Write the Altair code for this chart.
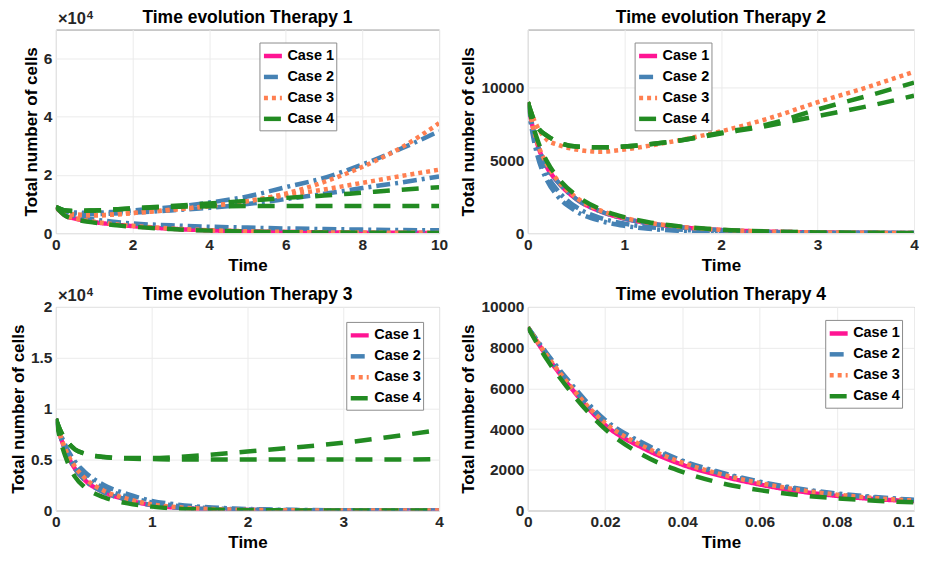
import altair as alt
import pandas as pd

FONT = "Liberation Sans"
CASES = ["Case 1", "Case 2", "Case 3", "Case 4"]
COLORS = ["#FF1493", "#4682B4", "#FF7F50", "#228B22"]
DASHES = [[1, 0], [14, 5, 3, 5], [4, 4], [17, 12]]
TITLES = ["Time evolution Therapy 1", "Time evolution Therapy 2",
          "Time evolution Therapy 3", "Time evolution Therapy 4"]

# ---------------- Therapy 1 ----------------
t1 = [0, 0.25, 0.5, 1, 1.5, 2, 3, 4, 5, 6, 7, 8, 9, 10]
th1_case1 = [[9000, 6000, 5000, 3800, 3000, 2400, 1500, 950, 600, 380, 250, 160, 100, 70]]
th1_case2 = [
    [9000, 7600, 7100, 7000, 7300, 7800, 8900, 10500, 12600, 15800, 19000, 23600, 29000, 35000],
    [9000, 7400, 6800, 6500, 6700, 7000, 7800, 8700, 10000, 11700, 13500, 15500, 17400, 19500],
    [9000, 6800, 5900, 4700, 3900, 3300, 2700, 2200, 1900, 1600, 1400, 1200, 1050, 950],
]
th1_case3 = [
    [9000, 7000, 6400, 6100, 6400, 6900, 8000, 9300, 11000, 13600, 17600, 22800, 29300, 37800],
    [9000, 7000, 6400, 6100, 6400, 6900, 8000, 9300, 11000, 13000, 15000, 17300, 19600, 21800],
    [9000, 6100, 5100, 3900, 3100, 2500, 1600, 1000, 640, 410, 260, 170, 110, 70],
]
th1_case4 = [
    [9000, 7800, 7600, 7800, 8100, 8500, 9300, 10200, 11100, 12100, 12900, 13900, 14900, 15800],
    [9000, 7800, 7600, 7800, 8100, 8500, 9000, 9200, 9300, 9300, 9300, 9300, 9300, 9300],
    [9000, 5900, 4800, 3600, 2800, 2200, 1400, 850, 520, 330, 210, 130, 85, 55],
]

# ---------------- Therapy 2 ----------------
t2 = [0, 0.05, 0.1, 0.2, 0.3, 0.5, 0.75, 1, 1.25, 1.5, 2, 2.5, 3, 3.5, 4]
th2_case1 = [[9000, 7300, 6100, 4500, 3600, 2350, 1500, 1000, 680, 460, 210, 100, 45, 20, 10]]
th2_case2 = [
    [9000, 7300, 6100, 4500, 3600, 2350, 1500, 1000, 680, 460, 210, 100, 45, 20, 10],
    [9000, 7000, 5700, 4000, 3000, 1800, 1050, 650, 420, 270, 110, 45, 20, 8, 3],
    [9000, 6800, 5300, 3600, 2600, 1500, 850, 500, 300, 180, 70, 28, 11, 5, 2],
]
th2_case3 = [
    [9000, 8000, 7300, 6400, 6100, 5750, 5600, 5750, 6000, 6300, 7000, 7900, 9000, 10000, 11100],
    [9000, 7400, 6200, 4700, 3700, 2450, 1560, 1050, 720, 490, 230, 105, 50, 22, 10],
]
th2_case4 = [
    [9000, 8000, 7300, 6700, 6300, 5950, 5900, 5950, 6100, 6300, 6900, 7500, 8500, 9400, 10350],
    [9000, 8000, 7300, 6700, 6300, 5950, 5900, 5950, 6100, 6300, 6850, 7400, 8050, 8700, 9450],
    [9000, 7500, 6400, 4900, 3900, 2600, 1650, 1100, 750, 520, 240, 110, 50, 25, 10],
]

# ---------------- Therapy 3 ----------------
t3 = [0, 0.05, 0.1, 0.2, 0.3, 0.5, 0.75, 1, 1.25, 1.5, 2, 2.5, 3, 3.5, 4]
th3_case1 = [[9000, 7200, 5900, 4100, 3000, 1800, 1050, 520, 290, 160, 48, 15, 5, 2, 1]]
th3_case2 = [
    [9000, 7500, 6400, 4800, 3800, 2500, 1600, 950, 600, 380, 150, 60, 25, 10, 4],
    [9000, 7400, 6200, 4600, 3500, 2200, 1350, 800, 480, 290, 110, 40, 15, 6, 2],
    [9000, 7200, 5900, 4100, 3000, 1800, 1050, 520, 290, 160, 48, 15, 5, 2, 1],
]
th3_case3 = [[9000, 7300, 6000, 4300, 3200, 1950, 1150, 600, 340, 190, 60, 18, 6, 2, 1]]
th3_case4 = [
    [9000, 7800, 7000, 6000, 5600, 5250, 5150, 5150, 5250, 5400, 5800, 6200, 6650, 7250, 7900],
    [9000, 7800, 7000, 6000, 5600, 5250, 5100, 5050, 5000, 5000, 5000, 5000, 5000, 5000, 5050],
    [9000, 6800, 5300, 3300, 2300, 1300, 700, 380, 200, 110, 30, 9, 3, 1, 0],
]

# ---------------- Therapy 4 ----------------
t4 = [0, 0.005, 0.01, 0.02, 0.03, 0.04, 0.05, 0.06, 0.07, 0.08, 0.09, 0.1]
th4_case1 = [[9000, 7550, 6300, 4200, 3050, 2250, 1700, 1280, 950, 720, 560, 460]]
th4_case2 = [
    [9000, 7700, 6500, 4450, 3300, 2450, 1870, 1420, 1080, 840, 660, 530],
    [9000, 7650, 6400, 4350, 3200, 2400, 1820, 1380, 1050, 800, 630, 500],
]
th4_case3 = [[9000, 7600, 6350, 4300, 3150, 2350, 1780, 1350, 1020, 780, 610, 490]]
th4_case4 = [[9000, 7400, 6100, 4000, 2700, 1900, 1350, 1000, 760, 600, 480, 400]]


def build(times, groups):
    rows = []
    for case, curves in zip(CASES, groups):
        for k, ys in enumerate(curves):
            for t, v in zip(times, ys):
                rows.append({"case": case, "curve": f"{case}-{k}", "t": t, "v": v})
    return pd.DataFrame(rows)


def panel(df, title, xdom, xvals, ydom, yvals, ylabel_expr, legend_xy, exponent, width):
    leg = alt.Legend(
        orient="none", legendX=legend_xy[0], legendY=legend_xy[1], title=None,
        symbolType="stroke", symbolSize=324, symbolStrokeWidth=4.5,
        labelFont=FONT, labelFontSize=14.5, labelFontWeight="bold", labelColor="black",
        fillColor="white", strokeColor="#8c8c8c", padding=2, rowPadding=0, labelOffset=3,
    )
    yaxis_kwargs = dict(values=yvals, title="Total number of cells", labelFlush=False, labelOverlap=False)
    if ylabel_expr:
        yaxis_kwargs["labelExpr"] = ylabel_expr
    else:
        yaxis_kwargs["format"] = "d"
    xaxis_kwargs = dict(values=xvals, format="~r", title="Time", labelFlush=False, labelOverlap=False,
                        titlePadding=5)
    if xdom[1] < 1:
        # keep the last tick label inside the page
        xaxis_kwargs["labelAlign"] = {"condition": {"test": f"datum.value > {xdom[1] * 0.99}", "value": "right"},
                                      "value": "center"}
    lines = alt.Chart(df).mark_line(strokeWidth=4.5, interpolate="monotone", clip=True).encode(
        x=alt.X("t:Q", scale=alt.Scale(domain=xdom, nice=False, zero=False),
                axis=alt.Axis(**xaxis_kwargs)),
        y=alt.Y("v:Q", scale=alt.Scale(domain=ydom, nice=False, zero=False),
                axis=alt.Axis(**yaxis_kwargs)),
        color=alt.Color("case:N", scale=alt.Scale(domain=CASES, range=COLORS), legend=leg),
        strokeDash=alt.StrokeDash("case:N", scale=alt.Scale(domain=CASES, range=DASHES), legend=leg),
        detail="curve:N",
    )
    anno = pd.DataFrame({"x": [xdom[0]], "xm": [(xdom[0] + xdom[1]) / 2], "y": [ydom[1]]})
    base = alt.Chart(anno)
    layers = [lines,
              base.mark_text(text=title, font=FONT, fontSize=17.5, fontWeight="bold",
                             align="center", baseline="alphabetic", dy=-6.5, color="black")
              .encode(x="xm:Q", y="y:Q")]
    if exponent:
        layers.append(base.mark_text(text="×10", font=FONT, fontSize=16.5, fontWeight="bold",
                                     align="left", baseline="alphabetic", dx=2, dy=-5.5, color="#262626")
                      .encode(x="x:Q", y="y:Q"))
        layers.append(base.mark_text(text="4", font=FONT, fontSize=11.5, fontWeight="bold",
                                     align="left", baseline="alphabetic", dx=31, dy=-11, color="#262626")
                      .encode(x="x:Q", y="y:Q"))
    return alt.layer(*layers).properties(width=width, height=204)


p1 = panel(build(t1, [th1_case1, th1_case2, th1_case3, th1_case4]), TITLES[0],
           [0, 10], [0, 2, 4, 6, 8, 10], [0, 70000], [0, 20000, 40000, 60000],
           "format(datum.value / 10000, '~r')", (204, 13), True, 384)
p2 = panel(build(t2, [th2_case1, th2_case2, th2_case3, th2_case4]), TITLES[1],
           [0, 4], [0, 1, 2, 3, 4], [0, 14000], [0, 5000, 10000],
           None, (107, 13), False, 387)
p3 = panel(build(t3, [th3_case1, th3_case2, th3_case3, th3_case4]), TITLES[2],
           [0, 4], [0, 1, 2, 3, 4], [0, 20000], [0, 5000, 10000, 15000, 20000],
           "format(datum.value / 10000, '~r')", (291, 15), True, 384)
p4 = panel(build(t4, [th4_case1, th4_case2, th4_case3, th4_case4]), TITLES[3],
           [0, 0.1], [0, 0.02, 0.04, 0.06, 0.08, 0.1], [0, 10000], [0, 2000, 4000, 6000, 8000, 10000],
           None, (298, 13), False, 387)

chart = alt.concat(p1, p2, p3, p4, columns=2, spacing=alt.RowColnumber(row=12, column=10)).resolve_scale(
    color="independent", strokeDash="independent", x="independent", y="independent"
).resolve_legend(color="independent", strokeDash="independent").properties(
    padding=0
).configure_view(stroke="#9a9a9a", strokeWidth=1).configure_axis(
    labelFont=FONT, labelFontSize=15.5, labelFontWeight="bold", labelColor="#262626",
    titleFont=FONT, titleFontSize=17, titleFontWeight="bold", titleColor="black",
    gridColor="#ebebeb", domain=False, ticks=False, labelPadding=4, titlePadding=3,
)

chart.save("out.html", embed_options={"renderer": "svg", "actions": False})
